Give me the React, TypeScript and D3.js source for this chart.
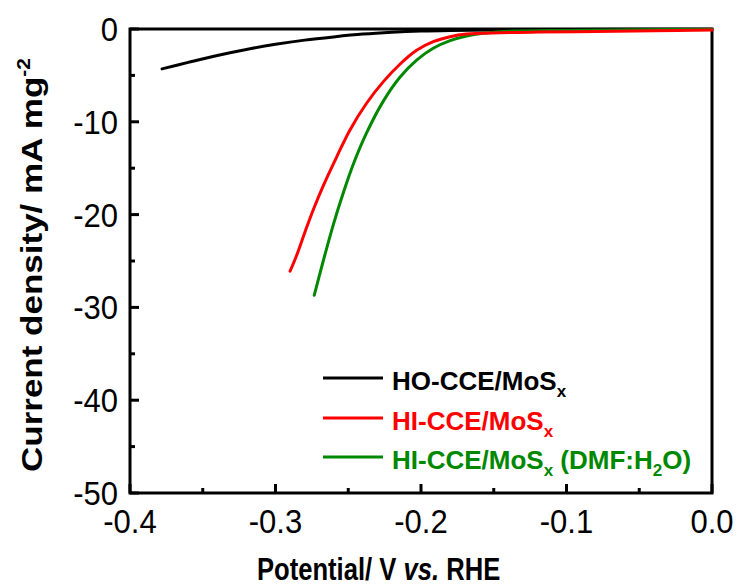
import React from "react";
import * as d3 from "d3";

// Polarization curves (potential in V vs. RHE, current density in mA mg^-2)
const hoV = [-0.378, -0.36, -0.34, -0.32, -0.3, -0.28, -0.26, -0.24, -0.22, -0.2, -0.18, -0.15, -0.1, -0.05, 0.0];
const hoJ = [-4.3, -3.6, -2.85, -2.2, -1.65, -1.2, -0.85, -0.55, -0.35, -0.22, -0.15, -0.1, -0.06, -0.03, -0.02];

const hiV = [-0.29, -0.2855, -0.2798, -0.2741, -0.2672, -0.258, -0.2489, -0.2374, -0.226, -0.2145, -0.203, -0.1916, -0.18, -0.1687, -0.1458, -0.12, -0.08, -0.04, 0.0];
const hiJ = [-26.1, -24.4, -21.9, -19.5, -16.9, -13.8, -10.9, -8.0, -5.7, -3.8, -2.3, -1.37, -0.83, -0.54, -0.4, -0.33, -0.27, -0.2, -0.12];

const dmfV = [-0.2734, -0.2672, -0.2603, -0.2535, -0.2466, -0.2374, -0.226, -0.2145, -0.203, -0.1916, -0.18, -0.1687, -0.1575, -0.1458, -0.1, -0.05, 0.0];
const dmfJ = [-28.7, -25.0, -21.1, -17.7, -14.6, -11.2, -7.8, -5.2, -3.36, -2.08, -1.26, -0.76, -0.46, -0.29, -0.15, -0.08, -0.05];

const xMajor = [-0.4, -0.3, -0.2, -0.1, 0.0];
const xMinor = [-0.35, -0.25, -0.15, -0.05];
const yMajor = [0, -10, -20, -30, -40, -50];
const yMinor = [-5, -15, -25, -35, -45];

const xTickLabels = ["-0.4", "-0.3", "-0.2", "-0.1", "0.0"];
const yTickLabels = ["0", "-10", "-20", "-30", "-40", "-50"];

const seriesColors = ["#000000", "#ff0000", "#008800"];

const W = 739;
const H = 586;
const left = 130;
const right = 712;
const top = 29;
const bottom = 493;

export default function App() {
  const x = d3.scaleLinear().domain([-0.4, 0]).range([left, right]);
  const y = d3.scaleLinear().domain([0, -50]).range([top, bottom]);

  const line = d3
    .line<[number, number]>()
    .x((d) => x(d[0]))
    .y((d) => y(d[1]))
    .curve(d3.curveCatmullRom.alpha(0.5));

  const zip = (a: number[], b: number[]) => a.map((v, i) => [v, b[i]] as [number, number]);

  const series = [
    { pts: zip(hoV, hoJ), color: seriesColors[0] },
    { pts: zip(dmfV, dmfJ), color: seriesColors[2] },
    { pts: zip(hiV, hiJ), color: seriesColors[1] },
  ];

  const font = "Arial, 'Liberation Sans', sans-serif";
  const legendRows = [378, 418, 457];

  return (
    <svg width={W} height={H} style={{ position: "absolute", left: 0, top: 0 }} fontFamily={font}>
      <rect width={W} height={H} fill="#fff" />

      {/* frame */}
      <rect x={left} y={top} width={right - left} height={bottom - top} fill="none" stroke="#000" strokeWidth={3} />

      {/* x ticks */}
      {xMajor.map((v) => (
        <line key={"xM" + v} x1={x(v)} x2={x(v)} y1={bottom} y2={bottom - 9} stroke="#000" strokeWidth={3} />
      ))}
      {xMinor.map((v) => (
        <line key={"xm" + v} x1={x(v)} x2={x(v)} y1={bottom} y2={bottom - 5} stroke="#000" strokeWidth={3} />
      ))}
      {/* y ticks */}
      {yMajor.map((v) => (
        <line key={"yM" + v} x1={left} x2={left + 9} y1={y(v)} y2={y(v)} stroke="#000" strokeWidth={3} />
      ))}
      {yMinor.map((v) => (
        <line key={"ym" + v} x1={left} x2={left + 5} y1={y(v)} y2={y(v)} stroke="#000" strokeWidth={3} />
      ))}

      {/* tick labels */}
      {xMajor.map((v, i) => (
        <text
          key={"xl" + v}
          transform={`translate(${x(v)},${bottom + 40}) scale(0.94,1)`}
          textAnchor="middle"
          fontSize={33}
        >
          {xTickLabels[i]}
        </text>
      ))}
      {yMajor.map((v, i) => (
        <text
          key={"yl" + v}
          transform={`translate(${left - 12},${y(v) + 12}) scale(0.94,1)`}
          textAnchor="end"
          fontSize={33}
        >
          {yTickLabels[i]}
        </text>
      ))}

      {/* curves */}
      {series.map((s, i) => (
        <path key={i} d={line(s.pts) || ""} fill="none" stroke={s.color} strokeWidth={3} strokeLinejoin="round" strokeLinecap="round" />
      ))}

      {/* axis titles */}
      <text transform={`translate(257,580) scale(0.8,1)`} fontSize={32} fontWeight="bold">
        Potential/ V <tspan fontStyle="italic">vs.</tspan> RHE
      </text>
      <text transform={`translate(42,472) scale(0.83,1) rotate(-90)`} fontSize={35} fontWeight="bold">
        Current density/ mA mg<tspan fontSize={21} dy={-14}>-2</tspan>
      </text>

      {/* legend */}
      {legendRows.map((ly, i) => (
        <line key={"lg" + i} x1={323} x2={383} y1={ly} y2={ly} stroke={seriesColors[i]} strokeWidth={3} />
      ))}
      <text x={392} y={legendRows[0] + 12} fontSize={26} fontWeight="bold" fill={seriesColors[0]}>
        HO-CCE/MoS<tspan fontSize={17} dy={7}>x</tspan>
      </text>
      <text x={392} y={legendRows[1] + 12} fontSize={26} fontWeight="bold" fill={seriesColors[1]}>
        HI-CCE/MoS<tspan fontSize={17} dy={7}>x</tspan>
      </text>
      <text x={392} y={legendRows[2] + 12} fontSize={26} fontWeight="bold" fill={seriesColors[2]}>
        HI-CCE/MoS<tspan fontSize={17} dy={7}>x</tspan>
        <tspan dy={-7}> (DMF:H</tspan>
        <tspan fontSize={17} dy={7}>2</tspan>
        <tspan dy={-7}>O)</tspan>
      </text>
    </svg>
  );
}
